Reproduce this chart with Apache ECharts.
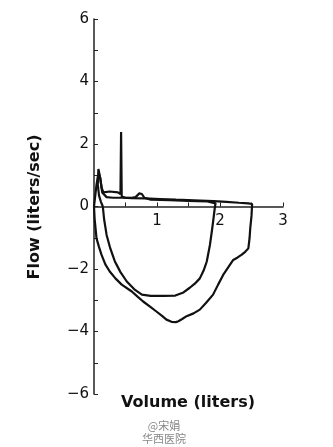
<!DOCTYPE html>
<html>
<head>
<meta charset="utf-8">
<script src="https://cdn.jsdelivr.net/npm/echarts@6/dist/echarts.min.js"></script>
<style>html,body{margin:0;padding:0;background:#fff;}#c{width:333px;height:447px;}</style>
</head>
<body>
<div id="c"></div>
<script>
// Outer (larger) loop
var outerVol  = [0.0,0.01,0.04,0.08,0.12,0.18,0.25,0.34,0.44,0.6,0.7,0.78,0.9,0.99,1.08,1.15,1.23,1.3,1.34,1.4,1.47,1.58,1.68,1.78,1.89,1.97,2.05,2.13,2.21,2.28,2.34,2.4,2.45,2.47,2.48,2.5,2.51,2.45,2.3,2.1,1.9,1.58,1.3,1.05,0.8,0.6,0.45,0.3,0.2,0.13,0.1,0.08,0.06,0.04,0.02,0.0];
var outerFlow = [0.0,-0.4,-1.02,-1.3,-1.55,-1.85,-2.08,-2.3,-2.5,-2.72,-2.9,-3.04,-3.22,-3.36,-3.5,-3.62,-3.69,-3.7,-3.67,-3.6,-3.51,-3.42,-3.3,-3.08,-2.82,-2.5,-2.19,-1.95,-1.71,-1.63,-1.55,-1.45,-1.34,-1.0,-0.7,-0.3,0.08,0.1,0.12,0.15,0.17,0.2,0.22,0.24,0.26,0.27,0.28,0.28,0.3,0.45,0.9,1.04,0.95,0.7,0.35,0.0];
// Inner (smaller) loop
var innerVol  = [0.14,0.16,0.2,0.26,0.33,0.42,0.52,0.64,0.76,0.9,1.1,1.29,1.42,1.52,1.6,1.68,1.74,1.79,1.84,1.87,1.89,1.92,1.93,1.8,1.5,1.2,0.9,0.8,0.76,0.72,0.66,0.6,0.5,0.44,0.43,0.42,0.38,0.25,0.15,0.12,0.1,0.07,0.05,0.06,0.08,0.11,0.14];
var innerFlow = [0.0,-0.4,-0.91,-1.35,-1.75,-2.1,-2.4,-2.65,-2.82,-2.86,-2.86,-2.85,-2.75,-2.6,-2.47,-2.3,-2.05,-1.76,-1.23,-0.8,-0.49,0.0,0.1,0.16,0.18,0.2,0.22,0.28,0.4,0.42,0.3,0.28,0.28,0.32,2.38,0.4,0.45,0.48,0.45,0.6,0.9,1.2,1.15,0.7,0.35,0.15,0.0];
var xTicks = [0,1,2,3];
var yTicks = [-6,-4,-2,0,2,4,6];

function pairs(xs, ys){ return xs.map(function(v,i){ return [v, ys[i]]; }); }

var chart = echarts.init(document.getElementById('c'), null, {renderer:'canvas'});
var axisColor = '#222';
var lblFont = 'DejaVu Sans';
var gridTop = 19, gridH = 375;
chart.setOption({
  backgroundColor: '#ffffff',
  animation: false,
  grid: {left: 94, right: 50, top: gridTop, height: gridH, containLabel: false},
  xAxis: {
    type: 'value', min: 0, max: 3, interval: 1, position: 'bottom',
    offset: -gridH / 2,
    axisLine: {show: true, onZero: false, lineStyle: {color: axisColor, width: 1.5}},
    axisTick: {show: true, inside: true, length: 4, lineStyle: {color: axisColor}},
    minorTick: {show: true, splitNumber: 2, length: 4, lineStyle: {color: axisColor}},
    splitLine: {show: false},
    axisLabel: {color: '#111', fontSize: 15, fontFamily: lblFont, margin: 7,
      formatter: function(v){ return v === 0 ? '' : String(v); }}
  },
  yAxis: {
    type: 'value', min: -6, max: 6, interval: 2,
    axisLine: {show: true, onZero: false, lineStyle: {color: axisColor, width: 1.5}},
    axisTick: {show: true, inside: true, length: 4, lineStyle: {color: axisColor}},
    minorTick: {show: true, splitNumber: 2, length: 4, lineStyle: {color: axisColor}},
    splitLine: {show: false},
    axisLabel: {color: '#111', fontSize: 15, fontFamily: lblFont, margin: 5,
      formatter: function(v){ return v < 0 ? '\u2212' + Math.abs(v) : String(v); }}
  },
  series: [
    {type: 'line', data: pairs(outerVol, outerFlow), showSymbol: false, smooth: false,
     lineStyle: {color: '#111', width: 2.2}},
    {type: 'line', data: pairs(innerVol, innerFlow), showSymbol: false, smooth: false,
     lineStyle: {color: '#111', width: 2.2}}
  ],
  graphic: [
    {type: 'text', x: 35, y: 207, rotation: Math.PI/2,
     style: {text: 'Flow (liters/sec)', fill: '#111', font: 'bold 16px "DejaVu Sans"', align: 'center', verticalAlign: 'middle'}},
    {type: 'text', x: 188, y: 403,
     style: {text: 'Volume (liters)', fill: '#111', font: 'bold 16px "DejaVu Sans"', align: 'center', verticalAlign: 'middle'}},
    {type: 'text', x: 164, y: 426,
     style: {text: '@宋娟', fill: '#888', font: '11px "Noto Sans CJK SC"', align: 'center', verticalAlign: 'middle'}},
    {type: 'text', x: 164, y: 439,
     style: {text: '华西医院', fill: '#888', font: '11px "Noto Sans CJK SC"', align: 'center', verticalAlign: 'middle'}}
  ]
});
</script>
</body>
</html>
